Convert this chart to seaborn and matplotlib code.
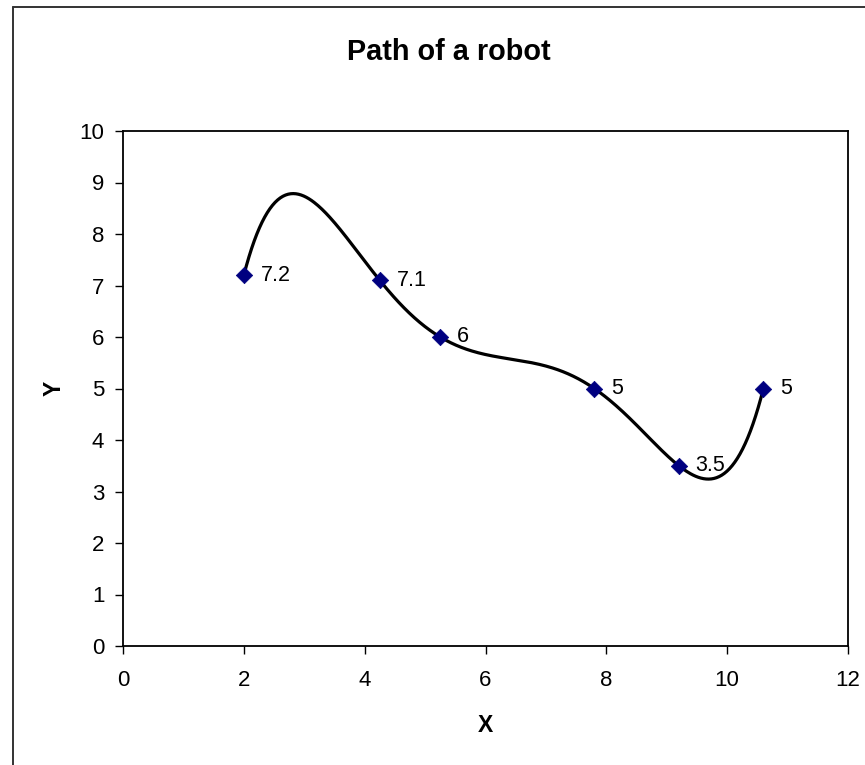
import numpy as np
import pandas as pd
import matplotlib
matplotlib.use("Agg")
import matplotlib.pyplot as plt
import seaborn as sns
from matplotlib.lines import Line2D

# data
x_vals = [2.0, 4.25, 5.25, 7.8, 9.2, 10.6]
y_vals = [7.2, 7.1, 6.0, 5.0, 3.5, 5.0]
point_labels = ["7.2", "7.1", "6", "5", "3.5", "5"]

x_ticks = [0, 2, 4, 6, 8, 10, 12]
y_ticks = list(range(0, 11))

sns.set_theme(style="white")
plt.rcParams['font.family'] = ['Liberation Sans', 'DejaVu Sans']
plt.rcParams['text.color'] = 'black'
plt.rcParams['axes.labelcolor'] = 'black'
plt.rcParams['xtick.color'] = 'black'
plt.rcParams['ytick.color'] = 'black'

pts = pd.DataFrame({"x": x_vals, "y": y_vals})

# smooth path: polynomial through all the points
coef = np.polyfit(pts["x"], pts["y"], len(pts) - 1)
xs = np.linspace(pts["x"].min(), pts["x"].max(), 400)
curve = pd.DataFrame({"x": xs, "y": np.polyval(coef, xs)})

fig = plt.figure(figsize=(8.65, 7.65), dpi=100)
ax = fig.add_axes([123 / 865, 1 - 646 / 765, (848 - 123) / 865, (646 - 131) / 765])

sns.lineplot(data=curve, x="x", y="y", sort=False, color="black", linewidth=2.3, ax=ax)
sns.scatterplot(data=pts, x="x", y="y", marker="D", s=70, color="#000080",
                edgecolor="#000080", linewidth=0.5, zorder=5, ax=ax)

for xv, yv, lab in zip(x_vals, y_vals, point_labels):
    ax.annotate(lab, (xv, yv), xytext=(12, 0), textcoords="offset points",
                va="center", ha="left", fontsize=15.5, color="black")

ax.set_xlim(0, 12)
ax.set_ylim(0, 10)
ax.set_xticks(x_ticks)
ax.set_yticks(y_ticks)
ax.tick_params(axis="both", direction="out", length=5.5, width=1, color="black",
               labelsize=16, bottom=True, left=True)
ax.tick_params(axis="x", pad=12)
ax.tick_params(axis="y", pad=8)
for s in ax.spines.values():
    s.set_color("black")
    s.set_linewidth(1.3)

ax.set_xlabel("X", fontsize=16.5, fontweight="bold", labelpad=16)
ax.set_ylabel("Y", fontsize=16.5, fontweight="bold", labelpad=10, rotation=90)

fig.text(449 / 865, 1 - 59.5 / 765, "Path of a robot", ha="center", va="baseline",
         fontsize=20.8, fontweight="bold")

# chart area border (only left and top visible in the crop)
fig.add_artist(Line2D([12.5 / 865, 12.5 / 865], [0, 1 - 6.5 / 765], color="#333333",
                      linewidth=1.4, transform=fig.transFigure))
fig.add_artist(Line2D([12.5 / 865, 1], [1 - 6.5 / 765, 1 - 6.5 / 765], color="#333333",
                      linewidth=1.4, transform=fig.transFigure))

fig.savefig("out.png", dpi=100, facecolor="white")
